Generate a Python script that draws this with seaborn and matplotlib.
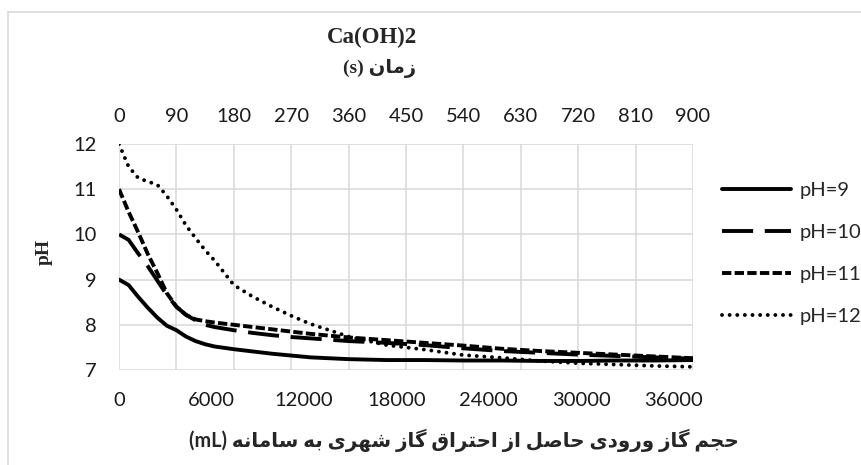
import matplotlib
matplotlib.use("Agg")
import matplotlib.pyplot as plt
from matplotlib.lines import Line2D
import numpy as np
import pandas as pd
import seaborn as sns

# ---- data -------------------------------------------------------------
time_s = [0, 15, 30, 45, 60, 75, 90, 105, 120, 135, 150, 180, 210, 240,
          270, 300, 360, 420, 480, 540, 600, 660, 720, 780, 840, 900]
ph9 = [9.0, 8.88, 8.62, 8.38, 8.16, 7.98, 7.88, 7.74, 7.64, 7.57, 7.52, 7.46,
       7.41, 7.36, 7.32, 7.28, 7.24, 7.22, 7.22, 7.21, 7.21, 7.2, 7.2, 7.21,
       7.21, 7.22]
ph10 = [10.0, 9.88, 9.58, 9.3, 8.98, 8.66, 8.4, 8.22, 8.1, 8.0, 7.95, 7.88,
        7.82, 7.77, 7.73, 7.7, 7.64, 7.6, 7.55, 7.48, 7.42, 7.38, 7.34, 7.31,
        7.28, 7.25]
ph11 = [11.0, 10.5, 10.05, 9.57, 9.15, 8.7, 8.4, 8.22, 8.12, 8.08, 8.05, 8.0,
        7.95, 7.9, 7.85, 7.8, 7.72, 7.66, 7.6, 7.54, 7.47, 7.42, 7.38, 7.34,
        7.3, 7.26]
ph12 = [12.0, 11.5, 11.25, 11.17, 11.1, 10.85, 10.55, 10.2, 9.92, 9.65, 9.42,
        8.88, 8.62, 8.4, 8.2, 8.02, 7.74, 7.55, 7.45, 7.33, 7.27, 7.2, 7.15,
        7.12, 7.09, 7.07]
series_names = ["pH=9", "pH=10", "pH=11", "pH=12"]
time_ticks = list(range(0, 901, 90))
volume_ticks = list(range(0, 36001, 6000))
ph_ticks = [7, 8, 9, 10, 11, 12]
flow_ml_per_s = 41.4          # gas volume fed per second

title = "Ca(OH)2"
top_label = "زمان"
bottom_label = "حجم گاز ورودی حاصل از احتراق گاز شهری به سامانه"

# ---- Persian shaping (presentation forms, visual order) ----------------
FORMS = {
    "ا": ("\uFE8D", "\uFE8E", None, None),
    "ب": ("\uFE8F", "\uFE90", "\uFE91", "\uFE92"),
    "ت": ("\uFE95", "\uFE96", "\uFE97", "\uFE98"),
    "ج": ("\uFE9D", "\uFE9E", "\uFE9F", "\uFEA0"),
    "ح": ("\uFEA1", "\uFEA2", "\uFEA3", "\uFEA4"),
    "د": ("\uFEA9", "\uFEAA", None, None),
    "ر": ("\uFEAD", "\uFEAE", None, None),
    "ز": ("\uFEAF", "\uFEB0", None, None),
    "س": ("\uFEB1", "\uFEB2", "\uFEB3", "\uFEB4"),
    "ش": ("\uFEB5", "\uFEB6", "\uFEB7", "\uFEB8"),
    "ص": ("\uFEB9", "\uFEBA", "\uFEBB", "\uFEBC"),
    "ق": ("\uFED5", "\uFED6", "\uFED7", "\uFED8"),
    "ل": ("\uFEDD", "\uFEDE", "\uFEDF", "\uFEE0"),
    "م": ("\uFEE1", "\uFEE2", "\uFEE3", "\uFEE4"),
    "ن": ("\uFEE5", "\uFEE6", "\uFEE7", "\uFEE8"),
    "ه": ("\uFEE9", "\uFEEA", "\uFEEB", "\uFEEC"),
    "و": ("\uFEED", "\uFEEE", None, None),
    "گ": ("\uFB92", "\uFB93", "\uFB94", "\uFB95"),
    "ی": ("\uFBFC", "\uFBFD", "\uFBFE", "\uFBFF"),
}


def shape_rtl(text):
    out = []
    for i, ch in enumerate(text):
        if ch not in FORMS:
            out.append(ch)
            continue
        prev = text[i - 1] if i > 0 else ""
        nxt = text[i + 1] if i + 1 < len(text) else ""
        joins_prev = prev in FORMS and FORMS[prev][2] is not None
        joins_next = nxt in FORMS and FORMS[ch][2] is not None
        iso, fin, ini, med = FORMS[ch]
        if joins_prev and joins_next:
            out.append(med)
        elif joins_prev:
            out.append(fin)
        elif joins_next:
            out.append(ini)
        else:
            out.append(iso)
    return "".join(out)[::-1]


# ---- long-form table ---------------------------------------------------
frames = []
for name, vals in zip(series_names, [ph9, ph10, ph11, ph12]):
    frames.append(pd.DataFrame({"time": time_s, "pH": vals, "series": name}))
df = pd.concat(frames, ignore_index=True)

sns.set_theme(style="white")
plt.rcParams["font.family"] = ["Lato", "DejaVu Sans"]

W, H = 862, 465
FS = 14.5
fig = plt.figure(figsize=(W / 100, H / 100), dpi=100)
ax = fig.add_axes([119 / W, 1 - 370 / H, 574 / W, 226 / H])

LW = 2.8
dash_map = {"pH=9": "", "pH=10": (8, 3), "pH=11": (2.4, 0.85),
            "pH=12": (0.01, 1.95)}
sns.lineplot(data=df, x="time", y="pH", hue="series", style="series",
             hue_order=series_names, style_order=series_names,
             palette=["black"] * 4, dashes=dash_map, linewidth=LW,
             ax=ax, legend=True)

for line in ax.lines:
    line.set_dash_capstyle("butt")
ax.lines[3].set_dash_capstyle("round")

ax.set_xlim(0, 900)
ax.set_ylim(7, 12)
ax.set_xticks(time_ticks)
ax.set_yticks(ph_ticks)
ax.xaxis.tick_top()
ax.set_xlabel("")
ax.set_ylabel("")
ax.grid(True, color="#d9d9d9", linewidth=1.1)
for s in ax.spines.values():
    s.set_visible(False)
ax.tick_params(axis="x", which="both", length=0, pad=14, labelsize=FS,
               colors="#1a1a1a", top=True, labeltop=True, bottom=False,
               labelbottom=False)
ax.tick_params(axis="y", length=0, pad=16, labelsize=FS, colors="#1a1a1a")

sec = ax.secondary_xaxis("bottom", functions=(lambda t: t * flow_ml_per_s,
                                              lambda v: v / flow_ml_per_s))
sec.set_xticks(volume_ticks)
sec.tick_params(length=0, pad=16, labelsize=FS, colors="#1a1a1a")
for s in sec.spines.values():
    s.set_visible(False)

# legend
handles, labels = ax.get_legend_handles_labels()
ax.get_legend().remove()
for h in handles:
    h.set_dash_capstyle("butt")
handles[3].set_dash_capstyle("round")
fig.legend(handles, labels, loc="center left",
           bbox_to_anchor=(722 / W, 1 - 253.5 / H), frameon=False,
           borderpad=0, borderaxespad=0, handlelength=3.43, handletextpad=0.4,
           labelspacing=1.25, fontsize=FS)

# titles and axis labels
fig.text(372 / W, 1 - 37 / H, title, ha="center", va="center",
         family="Liberation Serif", weight="bold", fontsize=16.5)
fig.text(380 / W, 1 - 68 / H, "(s) " + shape_rtl(top_label), ha="center",
         va="center", family=["Liberation Serif", "DejaVu Sans"],
         weight="bold", fontsize=14)
fig.text(44 / W, 1 - 252 / H, "pH", ha="center", va="center", rotation=90,
         family="Liberation Serif", weight="bold", fontsize=14)
fig.text(464 / W, 1 - 440 / H, "(mL) " + shape_rtl(bottom_label),
         ha="center", va="center", family=["Lato", "DejaVu Sans"],
         weight="bold", fontsize=14.3)

# chart-area border
fig.add_artist(Line2D([8 / W, 1], [1 - 12 / H, 1 - 12 / H], color="#d9d9d9",
                      lw=1.2, transform=fig.transFigure))
fig.add_artist(Line2D([8 / W, 8 / W], [0, 1 - 12 / H], color="#d9d9d9",
                      lw=1.2, transform=fig.transFigure))

fig.savefig("out.png", dpi=100)
